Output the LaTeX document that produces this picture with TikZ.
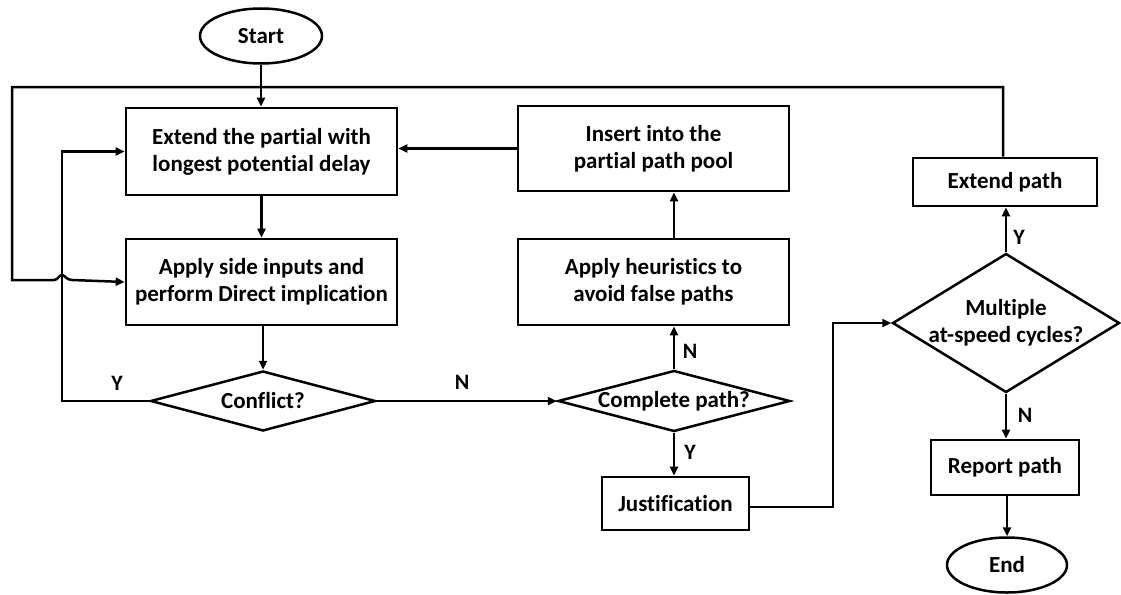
\documentclass[tikz,border=0pt]{standalone}
\usepackage{fontspec}
\setmainfont{Carlito}[Ligatures=NoCommon]
\usetikzlibrary{shapes.geometric,arrows.meta}
\begin{document}
\begin{tikzpicture}[x=1pt,y=-1pt,
  font=\bfseries\fontsize{23}{27}\selectfont,
  every node/.style={align=center,inner sep=0pt},
  proc/.style={draw,line width=2.7pt,rectangle},
  term/.style={draw,line width=2.5pt,ellipse},
  decide/.style={draw,line width=2.5pt,diamond,inner sep=0pt},
  flow/.style={line width=2.5pt,-{Triangle[length=9pt,width=8pt]}},
  wire/.style={line width=2.5pt},
  lab/.style={font=\bfseries\fontsize{22}{24}\selectfont}]
\useasboundingbox (0,0) rectangle (1121,594);

% terminals
\node[term,minimum width=122pt,minimum height=55pt] (start) at (261,36) {Start};
\node[term,minimum width=120pt,minimum height=55pt] (end) at (1007,565) {End};

% process boxes
\node[proc,minimum width=271pt,minimum height=87pt] (extend) at (261.5,151.5)
  {Extend the partial with\\longest potential delay};
\node[proc,minimum width=271pt,minimum height=86pt] (apply) at (261.5,282)
  {Apply side inputs and\\perform Direct implication};
\node[proc,minimum width=271pt,minimum height=85pt] (insert) at (653.5,148.5)
  {Insert into the\\partial path pool};
\node[proc,minimum width=271pt,minimum height=86pt] (heur) at (653.5,282)
  {Apply heuristics to\\avoid false paths};
\node[proc,minimum width=147pt,minimum height=53pt] (just) at (675.5,503.5) {Justification};
\node[proc,minimum width=184pt,minimum height=48pt] (extpath) at (1005,182) {Extend path};
\node[proc,minimum width=148pt,minimum height=55pt] (report) at (1005,467.5) {Report path};

% decisions (outline drawn first, text set on top)
\node[decide,minimum width=225pt,minimum height=60pt] (conflict) at (263,401) {};
\node at (conflict) {Conflict?};
\node[decide,minimum width=232pt,minimum height=61pt] (complete) at (674,401) {};
\node at (complete) {Complete path?};
\node[decide,minimum width=227pt,minimum height=139pt] (multi) at (1006,323) {};
\node at (multi) {Multiple\\at-speed cycles?};

% helper corners
\coordinate (tl) at (12,87);
\coordinate (tr) at (1003,87);
\coordinate (hopA) at (54,280);
\coordinate (hopB) at (72,280);
\coordinate (yl) at (62,401);
\coordinate (jr) at (833,507);

% main flow
\draw[flow] (start.south) -- (start |- extend.north);
\draw[flow] (extend.south) -- (apply.north);
\draw[flow] (conflict.north |- apply.south) -- (conflict.north);
\draw[flow] (conflict.east) -- (complete.west);
\draw[flow] (complete.north) -- (complete.north |- heur.south);
\draw[flow] (complete.north |- heur.north) -- (complete.north |- insert.south);
\draw[flow] (insert.west) -- (extend.east |- insert.west);
\draw[flow] (complete.south) -- (complete.south |- just.north);
\draw[flow] (just.east |- jr) -- (jr) -- (jr |- multi.west) -- (multi.west);
\draw[flow] (multi.north) -- (multi.north |- extpath.south);
\draw[flow] (multi.south) -- (report.north -| multi.south);
\draw[flow] (report.south -| end.north) -- (end.north);

% conflict "Y" loop back to the first box
\draw[flow] (conflict.west) -- (yl) -- (yl |- extend.west) -- (extend.west);

% outer loop from "Extend path" over the top and back into the second box
\draw[wire,line join=miter] (extpath.north -| tr) -- (tr) -- (tl) -- (tl |- hopA) -- (hopA)
  .. controls (58,280) and (59,275) .. (62,275)
  .. controls (65,275) and (66,280) .. (hopB);
\draw[flow] (hopB) -- (apply.west);

% branch labels
\node[lab] at (117,383) {Y};
\node[lab] at (462,382) {N};
\node[lab] at (690,351) {N};
\node[lab] at (690,452) {Y};
\node[lab] at (1019,237) {Y};
\node[lab] at (1025,415) {N};
\end{tikzpicture}
\end{document}
